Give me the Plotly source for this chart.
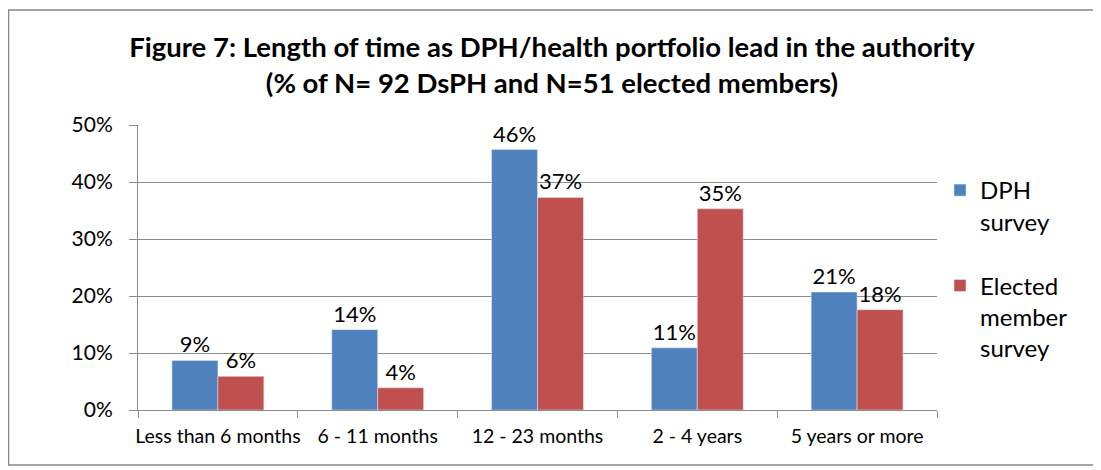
import plotly.graph_objects as go

# categories and values (share of respondents)
categories = ["Less than 6 months", "6 - 11 months", "12 - 23 months", "2 - 4 years", "5 years or more"]
dph_survey = [0.087, 0.141, 0.457, 0.109, 0.207]
elected_survey = [0.059, 0.039, 0.373, 0.353, 0.176]
series_names = ["DPH<br>survey", "Elected<br>member<br>survey"]

FONT = "Lato"
OFF = 8  # page body margin in the browser
W, H = 1101 - OFF, 470 - OFF
L, R, T, B = 138 - OFF, 1101 - 937, 125 - OFF, 60

pw = W - L - R
ph = H - T - B

def px(x):
    return (x - OFF - L) / pw

def py(y):
    return (H - (y - OFF) - B) / ph

fig = go.Figure()
fig.add_trace(go.Bar(x=categories, y=dph_survey, name=series_names[0],
                     marker_color="#4F81BD", legendgroup="a",
                     texttemplate="%{y:.0%}", textposition="outside",
                     textfont=dict(size=22, color="#000000"), cliponaxis=False))
fig.add_trace(go.Bar(x=categories, y=elected_survey, name=series_names[1],
                     marker_color="#C0504D", legendgroup="b",
                     texttemplate="%{y:.0%}", textposition="outside",
                     textfont=dict(size=22, color="#000000"), cliponaxis=False))

fig.update_layout(
    width=W, height=H,
    margin=dict(l=L, r=R, t=T, b=B, autoexpand=False),
    paper_bgcolor="white", plot_bgcolor="white",
    font=dict(family=FONT, color="#000000"),
    barmode="group", bargap=0.425, bargroupgap=0,
    title=dict(text="<b>Figure 7: Length of time as DPH/health portfolio lead in the authority<br>(% of N= 92 DsPH and N=51 elected members)</b>",
               x=(552 - OFF) / W, xanchor="center", y=1 - (57 - OFF) / H, yanchor="middle",
               font=dict(size=27.5, family=FONT)),
    legend=dict(x=px(940), y=py(168), xanchor="left", yanchor="top",
                font=dict(size=24), tracegroupgap=30, itemwidth=30,
                traceorder="grouped", valign="top"),
    shapes=[dict(type="rect", xref="paper", yref="paper",
                 x0=px(OFF + 0.5), x1=px(1098),
                 y0=py(465), y1=py(10),
                 line=dict(color="#888888", width=1.5))],
)

fig.update_yaxes(range=[0, 0.5], dtick=0.1, tickformat=".0%",
                 showgrid=True, gridcolor="#8c8c8c", gridwidth=1,
                 showline=True, linecolor="#8c8c8c", linewidth=1,
                 ticks="outside", ticklen=8, tickcolor="#8c8c8c",
                 ticklabelstandoff=12, automargin=False,
                 tickfont=dict(size=21), zeroline=False)
fig.update_xaxes(showline=True, linecolor="#8c8c8c", linewidth=1,
                 ticks="outside", ticklen=7, tickcolor="#8c8c8c",
                 tickson="boundaries", automargin=False, tickangle=0,
                 ticklabelstandoff=9, tickfont=dict(size=19.5))

fig.write_html("out.html")
